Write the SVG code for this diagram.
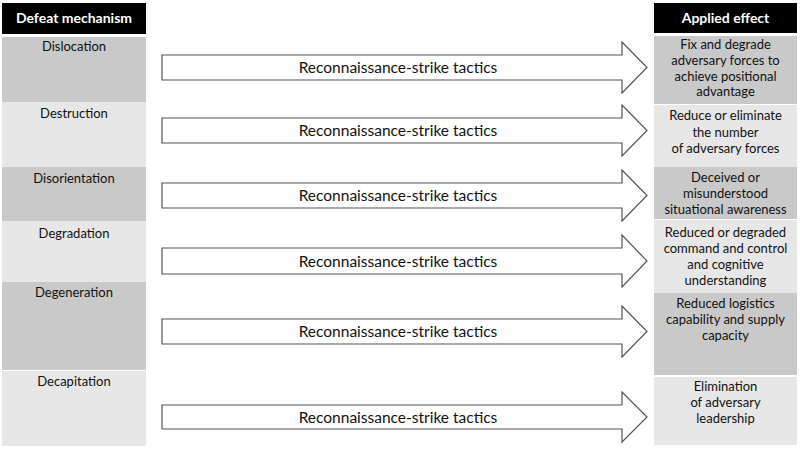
<svg xmlns="http://www.w3.org/2000/svg" width="800" height="450" viewBox="0 0 800 450">
<defs>
<style>
.hdr{fill:#000}
.dk{fill:#c9c9c9}
.lt{fill:#e7e7e7}
.ht{font-family:Lato,"Liberation Sans",sans-serif;font-size:14px;font-weight:bold;fill:#fff;text-anchor:middle}
.lbl{font-family:Lato,"Liberation Sans",sans-serif;font-size:13px;fill:#111;text-anchor:middle}
.arr{fill:#fff;stroke:#555;stroke-width:1.2}
.at{font-family:Lato,"Liberation Sans",sans-serif;font-size:15.5px;fill:#111;text-anchor:middle}
</style>
</defs>
<rect width="800" height="450" fill="#fff"/>
<g id="header-left"><rect class="hdr" x="2" y="3" width="144" height="31"/><text class="ht" x="74" y="23">Defeat mechanism</text></g>
<g id="header-right"><rect class="hdr" x="654" y="3" width="143" height="30"/><text class="ht" x="725.5" y="23">Applied effect</text></g>

<g id="mech-dislocation"><rect class="dk" x="2" y="37" width="144" height="65"/><text class="lbl" x="74" y="51">Dislocation</text></g>
<g id="mech-destruction"><rect class="lt" x="2" y="102" width="144" height="65"/><text class="lbl" x="74" y="118">Destruction</text></g>
<g id="mech-disorientation"><rect class="dk" x="2" y="167" width="144" height="54"/><text class="lbl" x="74" y="183">Disorientation</text></g>
<g id="mech-degradation"><rect class="lt" x="2" y="221" width="144" height="61"/><text class="lbl" x="74" y="238">Degradation</text></g>
<g id="mech-degeneration"><rect class="dk" x="2" y="282" width="144" height="88"/><text class="lbl" x="74" y="297">Degeneration</text></g>
<g id="mech-decapitation"><rect class="lt" x="2" y="371" width="144" height="75"/><text class="lbl" x="74" y="386">Decapitation</text></g>

<g id="effect-dislocation"><rect class="dk" x="654" y="36" width="143" height="68"/><text class="lbl" x="725.5" y="49">Fix and degrade</text><text class="lbl" x="725.5" y="65">adversary forces to</text><text class="lbl" x="725.5" y="81">achieve positional</text><text class="lbl" x="725.5" y="96">advantage</text></g>
<g id="effect-destruction"><rect class="lt" x="654" y="105" width="143" height="62"/><text class="lbl" x="725.5" y="120">Reduce or eliminate</text><text class="lbl" x="725.5" y="137">the number</text><text class="lbl" x="725.5" y="153">of adversary forces</text></g>
<g id="effect-disorientation"><rect class="dk" x="654" y="167" width="143" height="52"/><text class="lbl" x="725.5" y="182">Deceived or</text><text class="lbl" x="725.5" y="198">misunderstood</text><text class="lbl" x="725.5" y="214">situational awareness</text></g>
<g id="effect-degradation"><rect class="lt" x="654" y="220" width="143" height="73"/><text class="lbl" x="725.5" y="237">Reduced or degraded</text><text class="lbl" x="725.5" y="253">command and control</text><text class="lbl" x="725.5" y="269">and cognitive</text><text class="lbl" x="725.5" y="285">understanding</text></g>
<g id="effect-degeneration"><rect class="dk" x="654" y="293" width="143" height="82"/><text class="lbl" x="725.5" y="308">Reduced logistics</text><text class="lbl" x="725.5" y="324">capability and supply</text><text class="lbl" x="725.5" y="340">capacity</text></g>
<g id="effect-decapitation"><rect class="lt" x="654" y="377" width="143" height="68"/><text class="lbl" x="725.5" y="391">Elimination</text><text class="lbl" x="725.5" y="407">of adversary</text><text class="lbl" x="725.5" y="423">leadership</text></g>

<g id="connectors">
<path class="arr" d="M162,55 H622 V42 L647,67.5 L622,93 V80 H162 Z"/>
<text class="at" x="398" y="73">Reconnaissance-strike tactics</text>
<path class="arr" d="M162,118 H622 V105 L647,130.5 L622,156 V143 H162 Z"/>
<text class="at" x="398" y="136">Reconnaissance-strike tactics</text>
<path class="arr" d="M162,183 H622 V170 L647,195.5 L622,221 V208 H162 Z"/>
<text class="at" x="398" y="201">Reconnaissance-strike tactics</text>
<path class="arr" d="M162,248 H622 V235 L647,261 L622,287 V274 H162 Z"/>
<text class="at" x="398" y="267">Reconnaissance-strike tactics</text>
<path class="arr" d="M162,319 H622 V306 L647,331.5 L622,357 V344 H162 Z"/>
<text class="at" x="398" y="337">Reconnaissance-strike tactics</text>
<path class="arr" d="M162,405 H622 V392 L647,417 L622,442 V429 H162 Z"/>
<text class="at" x="398" y="423">Reconnaissance-strike tactics</text>
</g>
</svg>
